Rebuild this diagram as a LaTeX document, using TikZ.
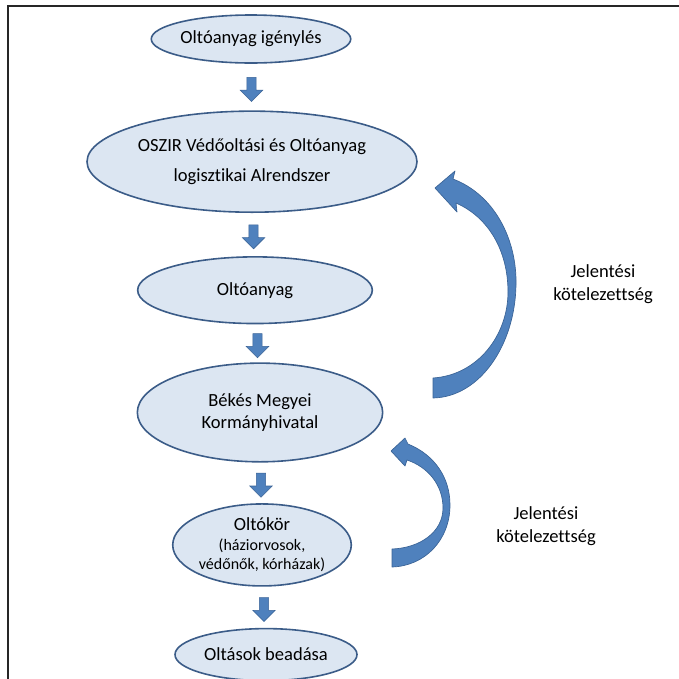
\documentclass[tikz,border=0pt]{standalone}
\usepackage{fontspec}
\setmainfont{Carlito}[Ligatures=NoCommon]
\usetikzlibrary{shapes.geometric, shapes.arrows, positioning, calc}
\definecolor{ovalfill}{HTML}{DCE6F2}
\definecolor{ovalline}{HTML}{3B5C88}
\definecolor{arrowfill}{HTML}{4F81BD}
\definecolor{arrowline}{HTML}{3A6396}
\newcommand{\subtxt}[1]{{\fontsize{12}{13.5}\selectfont #1}}

\begin{document}
\begin{tikzpicture}[x=0.75pt, y=-0.75pt, font=\fontsize{13.9}{17}\selectfont,
    oval/.style={ellipse, draw=ovalline, line width=1.2pt, fill=ovalfill, inner sep=0pt, align=center},
    darrow/.style={single arrow, shape border rotate=270, draw=arrowline, fill=arrowfill, line width=0.4pt,
        minimum height=18pt, minimum width=16.5pt, inner sep=3.3pt, single arrow head extend=4.9pt},
    bentarrow/.style={draw=arrowline, fill=arrowfill, line width=0.5pt, line join=round},
    note/.style={align=center, font=\fontsize{13.9}{17.5}\selectfont}]
\useasboundingbox (0,0) rectangle (679,679);
\draw[line width=2pt, black!85] (8,679) -- (8,6) -- (679,6);

\node[oval, minimum width=147.8pt, minimum height=36pt] (req) at (251,39) {Oltóanyag igénylés};
\node[oval, minimum width=247.5pt, minimum height=75.8pt, below=34.9pt of req, xshift=0.75pt] (oszir)
    {OSZIR Védőoltási és Oltóanyag\\[5pt]logisztikai Alrendszer};
\node[oval, minimum width=176pt, minimum height=50pt, below=32.3pt of oszir, xshift=2.25pt] (stock) {Oltóanyag};
\node[oval, minimum width=184pt, minimum height=74pt, below=28.5pt of stock, xshift=3.75pt] (office)
    {Békés Megyei\\Kormányhivatal};
\node[oval, minimum width=131pt, minimum height=61.5pt, below=30.4pt of office, xshift=1.5pt] (circle)
    {Oltókör\\[-2pt]\subtxt{(háziorvosok,}\\[-3pt]\subtxt{védőnők, kórházak)}};
\node[oval, minimum width=136.5pt, minimum height=39pt, below=30.8pt of circle, xshift=3pt] (shots) {Oltások beadása};

% lefele mutato nyilak
\node[darrow] (a1) at ($(req.south)!0.5!(oszir.north)$) {};
\node[darrow] (a2) at ($(oszir.south)!0.5!(stock.north)$) {};
\node[darrow] (a3) at ($(stock.south)!0.5!(office.north)$) {};
\node[darrow] (a4) at ($(office.south)!0.5!(circle.north)$) {};
\node[darrow] (a5) at ($(circle.south)!0.5!(shots.north)$) {};

% jelentesi kotelezettseg
\fill[bentarrow] (435,188) -- (455,171) -- (453,179)
    .. controls (495,195) and (517,240) .. (516,285)
    .. controls (515,345) and (480,397) .. (433,398) -- (433,378)
    .. controls (478,375) and (508,335) .. (508,292)
    .. controls (508,250) and (488,217) .. (456,203) -- (457,212) -- cycle;
\fill[bentarrow] (391,451) -- (405,438) -- (408,444)
    .. controls (435,455) and (450,478) .. (450,505)
    .. controls (450,540) and (425,566) .. (392,567) -- (392,549)
    .. controls (420,548) and (443,532) .. (443,508)
    .. controls (443,485) and (428,467) .. (407,460) -- (405,466) -- cycle;
\node[note] (rep1) at (603,284) {Jelentési\\kötelezettség};
\node[note] (rep2) at (546,526) {Jelentési\\kötelezettség};
\end{tikzpicture}
\end{document}
